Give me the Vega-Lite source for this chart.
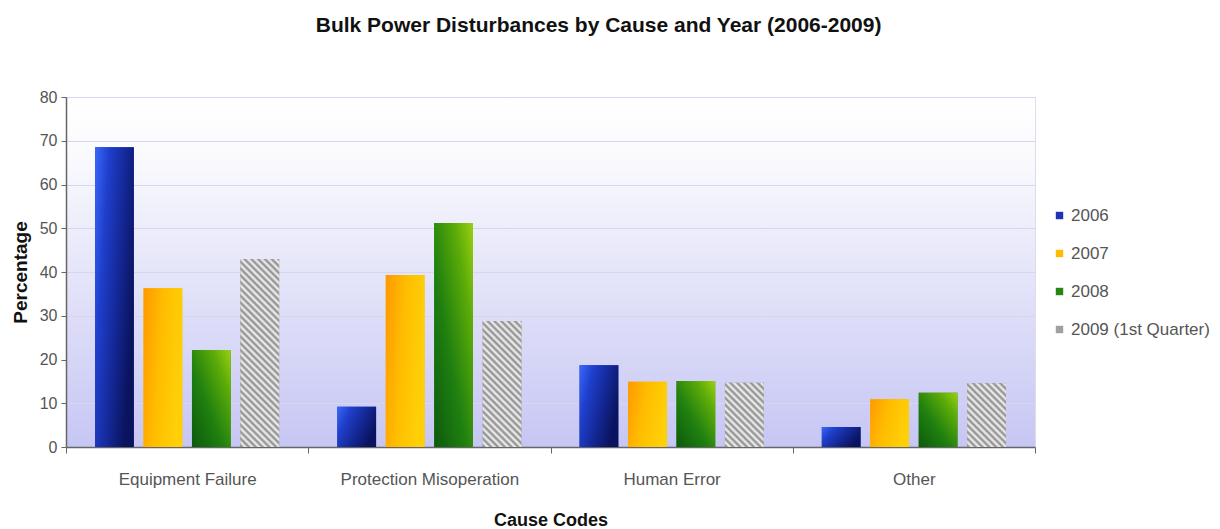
{
  "$schema": "https://vega.github.io/schema/vega-lite/v6.json",
  "width": 969,
  "height": 350,
  "autosize": {"type": "none"},
  "padding": {"left": 66, "top": 97, "right": 185, "bottom": 82},
  "background": "white",
  "view": {
    "stroke": "#dcdcec",
    "fill": {"expr": "{gradient: 'linear', x1: 0, y1: 0, x2: 0, y2: 1, stops: [{offset: 0, color: '#ffffff'}, {offset: 0.15, color: '#fbfbfe'}, {offset: 1, color: '#c6c6f4'}]}"}
  },
  "title": {
    "text": "Bulk Power Disturbances by Cause and Year (2006-2009)",
    "fontSize": 21,
    "fontWeight": "bold",
    "color": "#111111",
    "anchor": "middle",
    "frame": "bounds",
    "offset": 53,
    "dx": -12
  },
  "data": {
    "values": [
      {"Cause": "Equipment Failure", "Year": "2006", "Percentage": 68.5},
      {"Cause": "Equipment Failure", "Year": "2007", "Percentage": 36.3},
      {"Cause": "Equipment Failure", "Year": "2008", "Percentage": 22.2},
      {"Cause": "Equipment Failure", "Year": "2009 (1st Quarter)", "Percentage": 43.0},
      {"Cause": "Protection Misoperation", "Year": "2006", "Percentage": 9.2},
      {"Cause": "Protection Misoperation", "Year": "2007", "Percentage": 39.3},
      {"Cause": "Protection Misoperation", "Year": "2008", "Percentage": 51.2},
      {"Cause": "Protection Misoperation", "Year": "2009 (1st Quarter)", "Percentage": 28.8},
      {"Cause": "Human Error", "Year": "2006", "Percentage": 18.7},
      {"Cause": "Human Error", "Year": "2007", "Percentage": 14.9},
      {"Cause": "Human Error", "Year": "2008", "Percentage": 15.1},
      {"Cause": "Human Error", "Year": "2009 (1st Quarter)", "Percentage": 14.7},
      {"Cause": "Other", "Year": "2006", "Percentage": 4.6},
      {"Cause": "Other", "Year": "2007", "Percentage": 10.9},
      {"Cause": "Other", "Year": "2008", "Percentage": 12.4},
      {"Cause": "Other", "Year": "2009 (1st Quarter)", "Percentage": 14.6}
    ]
  },
  "encoding": {
    "x": {
      "field": "Cause",
      "type": "nominal",
      "sort": ["Equipment Failure", "Protection Misoperation", "Human Error", "Other"],
      "scale": {"paddingInner": 0, "paddingOuter": 0},
      "title": "Cause Codes",
      "axis": {
        "labelAngle": 0,
        "tickBand": "extent",
        "tickSize": 6,
        "labelFontSize": 17,
        "labelPadding": 18,
        "titleFontSize": 18,
        "titlePadding": 24,
        "grid": false
      }
    },
    "xOffset": {
      "field": "Year",
      "type": "nominal",
      "scale": {
        "domain": ["2006", "2007", "2008", "2009 (1st Quarter)"],
        "paddingInner": 0.2,
        "paddingOuter": 0.6
      }
    },
    "y": {
      "field": "Percentage",
      "type": "quantitative",
      "scale": {"domain": [0, 80]},
      "title": "Percentage",
      "axis": {
        "values": [0, 10, 20, 30, 40, 50, 60, 70, 80],
        "tickSize": 5,
        "labelFontSize": 16,
        "labelPadding": 4,
        "titleFontSize": 19,
        "titlePadding": 9,
        "grid": true
      }
    }
  },
  "layer": [
    {
      "mark": {"type": "bar"},
      "encoding": {
        "color": {
          "field": "Year",
          "type": "nominal",
          "title": null,
          "scale": {
            "domain": ["2006", "2007", "2008", "2009 (1st Quarter)"],
            "range": ["#1c34b8", "#ffbb00", "#2a8612", "#a0a0a0"]
          },
          "legend": {
            "orient": "none",
            "legendX": 985,
            "legendY": 110,
            "symbolType": "square",
            "symbolSize": 55,
            "symbolStrokeWidth": 0,
            "labelFontSize": 17,
            "labelColor": "#555555",
            "labelOffset": 3,
            "rowPadding": 20,
            "padding": 0
          }
        }
      }
    },
    {
      "mark": {
        "type": "bar",
        "fill": {"expr": "datum.Year == '2006' ? {gradient: 'linear', x1: 0, y1: 0, x2: 1, y2: 0.5, stops: [{offset: 0, color: '#3a68fa'}, {offset: 0.3, color: '#1f3fcc'}, {offset: 0.65, color: '#142896'}, {offset: 1, color: '#0a145e'}]} : datum.Year == '2007' ? {gradient: 'linear', x1: 0, y1: 0, x2: 1, y2: 0.3, stops: [{offset: 0, color: '#ff9800'}, {offset: 0.5, color: '#ffbd00'}, {offset: 1, color: '#ffcf08'}]} : datum.Year == '2008' ? {gradient: 'linear', x1: 0, y1: 1, x2: 1, y2: 0, stops: [{offset: 0, color: '#0c5a0c'}, {offset: 0.4, color: '#1f7f10'}, {offset: 0.75, color: '#5aaa08'}, {offset: 1, color: '#9ad012'}]} : {gradient: 'linear', x1: 0, y1: 1, x2: 272*bandwidth('xOffset')/(pow(bandwidth('xOffset'),2)+pow(scale('y',0)-scale('y',datum.Percentage),2)), y2: 1-272*(scale('y',0)-scale('y',datum.Percentage))/(pow(bandwidth('xOffset'),2)+pow(scale('y',0)-scale('y',datum.Percentage),2)), stops: [{offset:0.00625,color:'#8a8a8a'},{offset:0.01875,color:'#f5f5f5'},{offset:0.03125,color:'#8a8a8a'},{offset:0.04375,color:'#f5f5f5'},{offset:0.05625,color:'#8a8a8a'},{offset:0.06875,color:'#f5f5f5'},{offset:0.08125,color:'#8a8a8a'},{offset:0.09375,color:'#f5f5f5'},{offset:0.10625,color:'#8a8a8a'},{offset:0.11875,color:'#f5f5f5'},{offset:0.13125,color:'#8a8a8a'},{offset:0.14375,color:'#f5f5f5'},{offset:0.15625,color:'#8a8a8a'},{offset:0.16875,color:'#f5f5f5'},{offset:0.18125,color:'#8a8a8a'},{offset:0.19375,color:'#f5f5f5'},{offset:0.20625,color:'#8a8a8a'},{offset:0.21875,color:'#f5f5f5'},{offset:0.23125,color:'#8a8a8a'},{offset:0.24375,color:'#f5f5f5'},{offset:0.25625,color:'#8a8a8a'},{offset:0.26875,color:'#f5f5f5'},{offset:0.28125,color:'#8a8a8a'},{offset:0.29375,color:'#f5f5f5'},{offset:0.30625,color:'#8a8a8a'},{offset:0.31875,color:'#f5f5f5'},{offset:0.33125,color:'#8a8a8a'},{offset:0.34375,color:'#f5f5f5'},{offset:0.35625,color:'#8a8a8a'},{offset:0.36875,color:'#f5f5f5'},{offset:0.38125,color:'#8a8a8a'},{offset:0.39375,color:'#f5f5f5'},{offset:0.40625,color:'#8a8a8a'},{offset:0.41875,color:'#f5f5f5'},{offset:0.43125,color:'#8a8a8a'},{offset:0.44375,color:'#f5f5f5'},{offset:0.45625,color:'#8a8a8a'},{offset:0.46875,color:'#f5f5f5'},{offset:0.48125,color:'#8a8a8a'},{offset:0.49375,color:'#f5f5f5'},{offset:0.50625,color:'#8a8a8a'},{offset:0.51875,color:'#f5f5f5'},{offset:0.53125,color:'#8a8a8a'},{offset:0.54375,color:'#f5f5f5'},{offset:0.55625,color:'#8a8a8a'},{offset:0.56875,color:'#f5f5f5'},{offset:0.58125,color:'#8a8a8a'},{offset:0.59375,color:'#f5f5f5'},{offset:0.60625,color:'#8a8a8a'},{offset:0.61875,color:'#f5f5f5'},{offset:0.63125,color:'#8a8a8a'},{offset:0.64375,color:'#f5f5f5'},{offset:0.65625,color:'#8a8a8a'},{offset:0.66875,color:'#f5f5f5'},{offset:0.68125,color:'#8a8a8a'},{offset:0.69375,color:'#f5f5f5'},{offset:0.70625,color:'#8a8a8a'},{offset:0.71875,color:'#f5f5f5'},{offset:0.73125,color:'#8a8a8a'},{offset:0.74375,color:'#f5f5f5'},{offset:0.75625,color:'#8a8a8a'},{offset:0.76875,color:'#f5f5f5'},{offset:0.78125,color:'#8a8a8a'},{offset:0.79375,color:'#f5f5f5'},{offset:0.80625,color:'#8a8a8a'},{offset:0.81875,color:'#f5f5f5'},{offset:0.83125,color:'#8a8a8a'},{offset:0.84375,color:'#f5f5f5'},{offset:0.85625,color:'#8a8a8a'},{offset:0.86875,color:'#f5f5f5'},{offset:0.88125,color:'#8a8a8a'},{offset:0.89375,color:'#f5f5f5'},{offset:0.90625,color:'#8a8a8a'},{offset:0.91875,color:'#f5f5f5'},{offset:0.93125,color:'#8a8a8a'},{offset:0.94375,color:'#f5f5f5'},{offset:0.95625,color:'#8a8a8a'},{offset:0.96875,color:'#f5f5f5'},{offset:0.98125,color:'#8a8a8a'},{offset:0.99375,color:'#f5f5f5'}]}"}
      }
    }
  ],
  "config": {
    "font": "Liberation Sans",
    "axis": {
      "domainColor": "#666666",
      "domainWidth": 1.5,
      "tickColor": "#666666",
      "labelColor": "#555555",
      "titleColor": "#111111",
      "titleFontWeight": "bold",
      "gridColor": "#d6d6ee",
      "gridWidth": 1.2
    }
  }
}
